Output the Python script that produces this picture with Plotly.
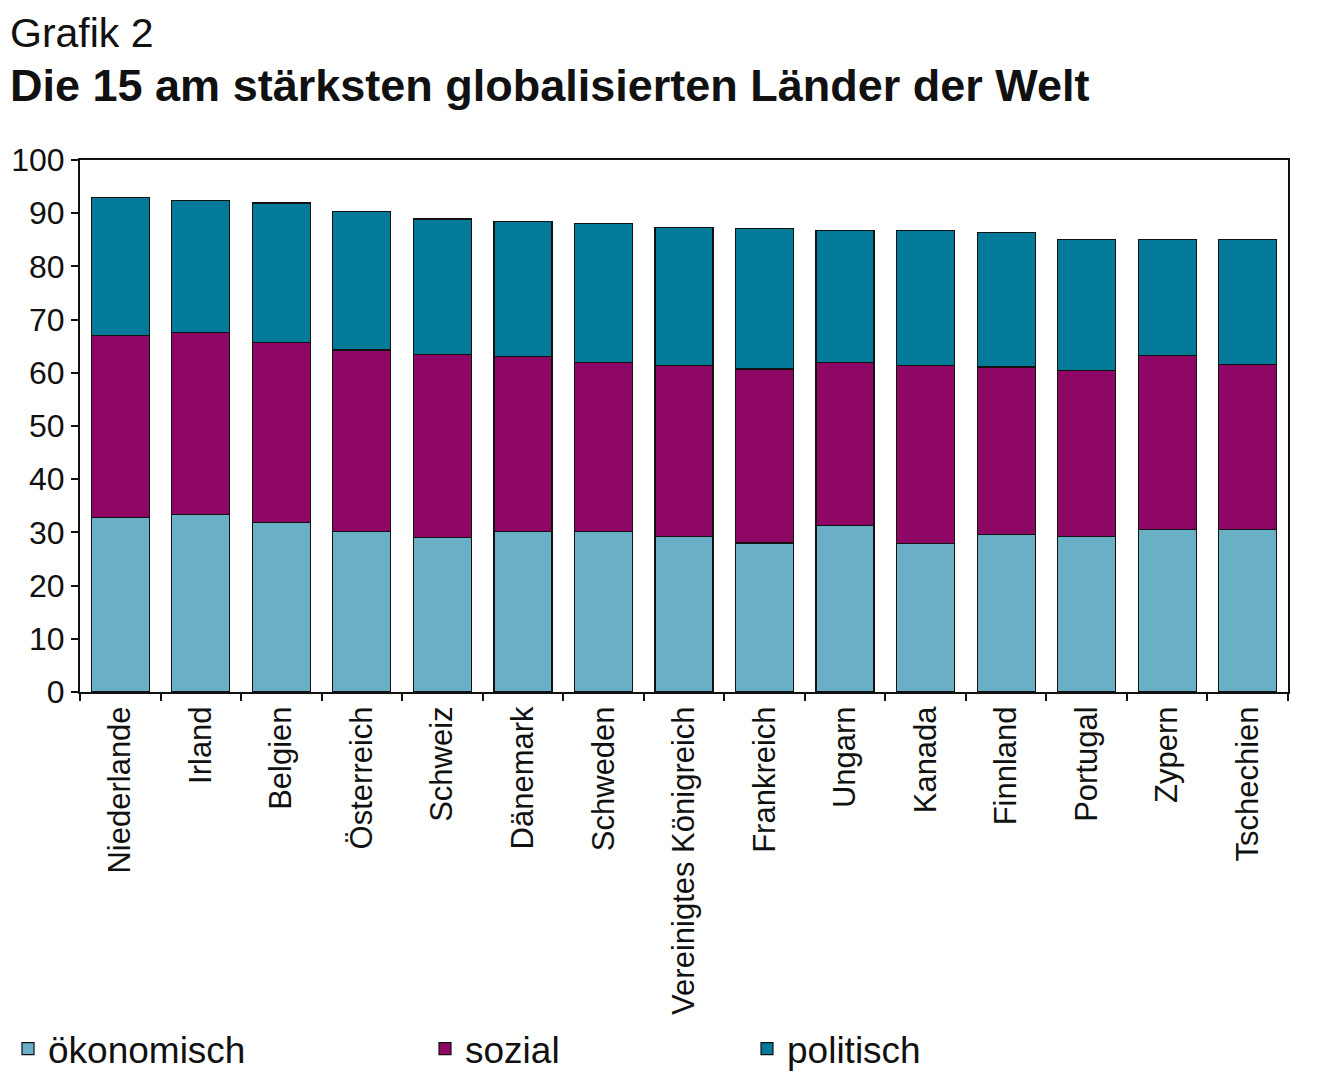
import plotly.graph_objects as go

laender = ["Niederlande", "Irland", "Belgien", "Österreich", "Schweiz", "Dänemark",
           "Schweden", "Vereinigtes Königreich", "Frankreich", "Ungarn", "Kanada",
           "Finnland", "Portugal", "Zypern", "Tschechien"]
oekonomisch = [32.8, 33.3, 31.8, 30.2, 29.1, 30.2, 30.2, 29.3, 28.0, 31.3, 27.9, 29.6, 29.2, 30.6, 30.6]
sozial = [34.2, 34.3, 33.9, 34.1, 34.3, 32.9, 31.7, 32.1, 32.7, 30.6, 33.4, 31.5, 31.3, 32.6, 30.9]
politisch = [26.0, 24.8, 26.2, 26.0, 25.5, 25.4, 26.2, 25.9, 26.5, 24.8, 25.4, 25.3, 24.6, 21.9, 23.5]
y_ticks = [0, 10, 20, 30, 40, 50, 60, 70, 80, 90, 100]

FONT = "Liberation Sans, Arial, sans-serif"
W, H = 1320, 1072
ML, MR, MT, MB = 72, 40, 152, 388

fig = go.Figure()
series = [("ökonomisch", oekonomisch, "#69B0C6", "legend"),
          ("sozial", sozial, "#8E0765", "legend2"),
          ("politisch", politisch, "#027A98", "legend3")]
for name, vals, col, lg in series:
    fig.add_trace(go.Bar(x=laender, y=vals, name=name, legend=lg, showlegend=True,
                         marker=dict(color=col, line=dict(color="#111111", width=1.2))))

legend_common = dict(orientation="h", yanchor="bottom", y=0.0, xref="container", yref="container",
                     font=dict(family=FONT, size=37, color="#111111"),
                     bgcolor="rgba(0,0,0,0)", itemwidth=30, tracegroupgap=0)

plot_w = W - ML - MR
plot_h = H - MT - MB


def px_to_paper(px, py_from_top):
    return (px - ML) / plot_w, (H - py_from_top - MB) / plot_h


gx, gy = px_to_paper(0, 25)
tx, ty = px_to_paper(0, 78)

fig.update_layout(
    barmode="stack",
    bargap=0.28,
    width=W, height=H,
    margin=dict(l=ML, r=MR, t=MT, b=MB, autoexpand=False),
    paper_bgcolor="white", plot_bgcolor="white",
    font=dict(family=FONT, color="#111111"),
    showlegend=True,
    legend=dict(x=0.0, **legend_common),
    legend2=dict(x=417 / W, **legend_common),
    legend3=dict(x=739 / W, **legend_common),
    annotations=[
        dict(text="Grafik 2", x=gx, y=gy, xref="paper", yref="paper", showarrow=False,
             xanchor="left", yanchor="middle", font=dict(family=FONT, size=41, color="#111111")),
        dict(text="<b>Die 15 am stärksten globalisierten Länder der Welt</b>", x=tx, y=ty,
             xref="paper", yref="paper", showarrow=False, xanchor="left", yanchor="middle",
             font=dict(family=FONT, size=45, color="#111111")),
    ],
)

fig.update_xaxes(
    type="category", showline=True, linecolor="#111111", linewidth=2, mirror=True,
    ticks="outside", tickson="boundaries", ticklen=7, tickcolor="#111111", tickwidth=2,
    tickangle=-90, tickfont=dict(family=FONT, size=31, color="#111111"), showgrid=False,
)
fig.update_yaxes(
    range=[0, 100], tickvals=y_ticks, showline=True, linecolor="#111111", linewidth=2,
    mirror=True, ticks="outside", ticklen=7, tickcolor="#111111", tickwidth=2,
    tickfont=dict(family=FONT, size=32, color="#111111"), showgrid=False, zeroline=False,
)

fig.write_html("out.html")
